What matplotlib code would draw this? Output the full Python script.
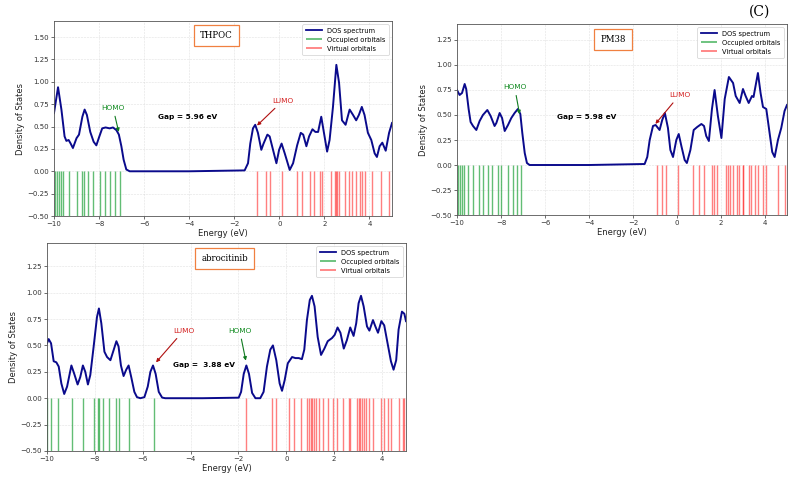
import matplotlib.pyplot as plt

# ---------------- THPOC ----------------
thpoc_e = [-10.0, -9.82, -9.67, -9.53, -9.45, -9.35, -9.26, -9.16, -9.0, -8.89, -8.74, -8.64,
           -8.54, -8.39, -8.24, -8.12, -8.0, -7.86, -7.71, -7.53, -7.38, -7.23, -7.12, -7.01,
           -6.91, -6.79, -6.64, -4.0, -1.54, -1.39, -1.29, -1.17, -1.07, -0.95, -0.80, -0.70,
           -0.53, -0.43, -0.28, -0.13, -0.01, 0.10, 0.24, 0.46, 0.61, 0.79, 0.95, 1.06, 1.20,
           1.32, 1.47, 1.60, 1.72, 1.86, 1.98, 2.12, 2.23, 2.38, 2.53, 2.65, 2.78, 2.94, 3.12,
           3.27, 3.41, 3.53, 3.66, 3.78, 3.93, 4.08, 4.23, 4.33, 4.45, 4.57, 4.72, 4.87, 5.0]
thpoc_dos = [0.65, 0.94, 0.69, 0.39, 0.34, 0.35, 0.31, 0.26, 0.37, 0.41, 0.61, 0.69,
             0.63, 0.44, 0.33, 0.29, 0.38, 0.48, 0.49, 0.48, 0.49, 0.46, 0.41, 0.28,
             0.13, 0.02, 0.0, 0.0, 0.01, 0.09, 0.31, 0.48, 0.52, 0.43, 0.24, 0.31,
             0.41, 0.39, 0.24, 0.09, 0.24, 0.31, 0.20, 0.015, 0.09, 0.29, 0.43, 0.41, 0.28,
             0.39, 0.47, 0.44, 0.44, 0.61, 0.43, 0.22, 0.35, 0.72, 1.19, 0.99, 0.57, 0.52, 0.69,
             0.63, 0.57, 0.63, 0.72, 0.63, 0.43, 0.35, 0.20, 0.16, 0.28, 0.32, 0.23, 0.43, 0.54]
thpoc_occ = [-9.96, -9.88, -9.79, -9.70, -9.61, -9.35, -9.0, -8.74, -8.65, -8.50, -8.25,
             -7.95, -7.73, -7.51, -7.30, -7.08]
thpoc_virt = [-0.98, -0.61, -0.43, 0.12, 0.80, 1.02, 1.34, 1.54, 1.82, 1.90, 2.30, 2.45,
              2.51, 2.56, 2.63, 2.93, 3.10, 3.22, 3.40, 3.57, 3.65, 3.82, 4.10, 4.50, 4.87]

# ---------------- PM38 ----------------
pm38_e = [-10.0, -9.88, -9.77, -9.65, -9.58, -9.47, -9.38, -9.27, -9.12, -8.97, -8.82, -8.62,
          -8.47, -8.29, -8.21, -8.06, -7.95, -7.83, -7.68, -7.53, -7.38, -7.23, -7.12, -7.03,
          -6.92, -6.82, -6.70, -4.0, -1.47, -1.35, -1.24, -1.09, -0.97, -0.79, -0.67, -0.55,
          -0.41, -0.30, -0.18, -0.03, 0.08, 0.20, 0.35, 0.45, 0.61, 0.76, 0.92, 1.11, 1.23,
          1.33, 1.45, 1.59, 1.71, 1.86, 2.02, 2.17, 2.36, 2.55, 2.67, 2.85, 3.0, 3.12, 3.26,
          3.41, 3.48, 3.68, 3.80, 3.91, 4.06, 4.21, 4.33, 4.44, 4.59, 4.74, 4.89, 5.0]
pm38_dos = [0.75, 0.70, 0.72, 0.81, 0.76, 0.56, 0.43, 0.39, 0.35, 0.44, 0.50, 0.55,
            0.49, 0.39, 0.42, 0.52, 0.47, 0.34, 0.40, 0.47, 0.52, 0.56, 0.51, 0.32,
            0.12, 0.02, 0.0, 0.0, 0.01, 0.08, 0.25, 0.39, 0.40, 0.35, 0.45, 0.52,
            0.37, 0.15, 0.08, 0.25, 0.31, 0.19, 0.05, 0.02, 0.15, 0.35, 0.38, 0.41, 0.39,
            0.29, 0.24, 0.56, 0.75, 0.49, 0.27, 0.66, 0.88, 0.82, 0.69, 0.62, 0.76, 0.69, 0.62,
            0.69, 0.68, 0.92, 0.72, 0.58, 0.56, 0.32, 0.13, 0.08, 0.25, 0.37, 0.54, 0.60]
pm38_occ = [-9.97, -9.86, -9.77, -9.67, -9.50, -9.25, -8.98, -8.80, -8.60, -8.41, -8.12,
            -8.02, -7.70, -7.44, -7.25, -7.10]
pm38_virt = [-0.93, -0.66, -0.50, 0.03, 0.72, 0.98, 1.22, 1.58, 1.68, 1.80, 2.23, 2.30,
             2.41, 2.56, 2.75, 2.83, 2.98, 3.01, 3.28, 3.35, 3.53, 3.67, 3.91, 4.06, 4.57, 4.89]

# ---------------- abrocitinib ----------------
abro_e = [-10.0, -9.93, -9.83, -9.72, -9.61, -9.51, -9.40, -9.28, -9.16, -8.98, -8.86, -8.72,
          -8.61, -8.50, -8.40, -8.29, -8.19, -8.05, -7.91, -7.83, -7.73, -7.60, -7.49, -7.35,
          -7.21, -7.10, -7.01, -6.91, -6.80, -6.69, -6.59, -6.48, -6.35, -6.24, -6.10, -5.93,
          -5.79, -5.68, -5.57, -5.46, -5.33, -5.19, -5.06, -3.5, -1.99, -1.89, -1.78, -1.67,
          -1.56, -1.43, -1.29, -1.09, -0.95, -0.81, -0.67, -0.56, -0.42, -0.28, -0.18, -0.07,
          0.06, 0.24, 0.38, 0.52, 0.65, 0.75, 0.86, 0.98, 1.07, 1.18, 1.31, 1.45, 1.59, 1.73,
          1.91, 2.02, 2.14, 2.26, 2.40, 2.53, 2.67, 2.81, 2.92, 3.02, 3.12, 3.23, 3.37, 3.47,
          3.62, 3.72, 3.83, 3.97, 4.09, 4.23, 4.37, 4.48, 4.59, 4.69, 4.83, 4.93, 5.0]
abro_dos = [0.52, 0.56, 0.52, 0.35, 0.34, 0.30, 0.14, 0.04, 0.11, 0.31, 0.23, 0.13,
            0.20, 0.31, 0.25, 0.13, 0.22, 0.49, 0.77, 0.85, 0.71, 0.44, 0.39, 0.36,
            0.46, 0.54, 0.49, 0.31, 0.21, 0.27, 0.31, 0.20, 0.06, 0.01, 0.0, 0.01,
            0.11, 0.25, 0.31, 0.23, 0.06, 0.006, 0.0, 0.0, 0.005, 0.06, 0.23, 0.31,
            0.23, 0.05, 0.0, 0.0, 0.06, 0.30, 0.46, 0.50, 0.36, 0.14, 0.07, 0.17,
            0.33, 0.39, 0.38, 0.38, 0.37, 0.46, 0.74, 0.93, 0.97, 0.87, 0.58, 0.41, 0.47, 0.54,
            0.57, 0.60, 0.67, 0.62, 0.47, 0.55, 0.67, 0.59, 0.71, 0.90, 0.97, 0.87, 0.68, 0.64,
            0.74, 0.68, 0.62, 0.73, 0.69, 0.52, 0.35, 0.27, 0.36, 0.65, 0.82, 0.80, 0.73]
abro_occ = [-10.0, -9.85, -9.56, -8.94, -8.48, -8.04, -7.85, -7.81, -7.66, -7.41, -7.13,
            -7.01, -6.58, -5.54]
abro_virt = [-1.67, -0.61, -0.45, 0.10, 0.34, 0.62, 0.86, 0.93, 1.01, 1.09, 1.16, 1.26,
             1.35, 1.54, 1.75, 1.93, 2.12, 2.38, 2.60, 2.67, 2.96, 3.02, 3.08, 3.16, 3.23,
             3.34, 3.47, 3.61, 3.94, 4.08, 4.25, 4.36, 4.70, 4.86, 4.91]

panels = [
    dict(name="THPOC", e=thpoc_e, dos=thpoc_dos, occ=thpoc_occ, virt=thpoc_virt,
         rect=[0.0679, 0.5481, 0.4252, 0.4079], ytop=1.68,
         yticks=[-0.5, -0.25, 0, 0.25, 0.5, 0.75, 1.0, 1.25, 1.5],
         gap="Gap = 5.96 eV", gap_xy=(-4.05, 0.61),
         homo=((-7.1, 0.41), (-7.38, 0.71)), lumo=((-1.08, 0.49), (0.16, 0.79)),
         title_xy=(0.48, 0.925)),
    dict(name="PM38", e=pm38_e, dos=pm38_dos, occ=pm38_occ, virt=pm38_virt,
         rect=[0.5748, 0.5502, 0.4151, 0.3996], ytop=1.41,
         yticks=[-0.5, -0.25, 0, 0.25, 0.5, 0.75, 1.0, 1.25],
         gap="Gap = 5.98 eV", gap_xy=(-4.09, 0.48),
         homo=((-7.13, 0.48), (-7.38, 0.78)), lumo=((-1.06, 0.39), (0.12, 0.70)),
         title_xy=(0.473, 0.92)),
    dict(name="abrocitinib", e=abro_e, dos=abro_dos, occ=abro_occ, virt=abro_virt,
         rect=[0.0591, 0.0565, 0.4516, 0.4351], ytop=1.47,
         yticks=[-0.5, -0.25, 0, 0.25, 0.5, 0.75, 1.0, 1.25],
         gap="Gap =  3.88 eV", gap_xy=(-3.43, 0.31),
         homo=((-1.67, 0.33), (-1.95, 0.64)), lumo=((-5.52, 0.32), (-4.29, 0.64)),
         title_xy=(0.495, 0.924)),
]

fig = plt.figure(figsize=(7.95, 4.78), dpi=100)

for p in panels:
    ax = fig.add_axes(p["rect"])
    ax.plot(p["e"], p["dos"], color="#0a0a8c", lw=1.4, label="DOS spectrum")
    ax.vlines(p["occ"], -0.5, 0, color="#1fa23a", alpha=0.7, lw=1.0, label="Occupied orbitals")
    ax.vlines(p["virt"], -0.5, 0, color="#ff2a2a", alpha=0.6, lw=1.0, label="Virtual orbitals")
    ax.set_xlim(-10, 5)
    ax.set_ylim(-0.5, p["ytop"])
    ax.set_yticks(p["yticks"])
    ax.set_xticks([-10, -8, -6, -4, -2, 0, 2, 4])
    ax.tick_params(labelsize=5, length=2, width=0.5, pad=1.5, colors="#333333")
    ax.grid(color="#cccccc", lw=0.4, alpha=0.6, linestyle="--")
    for s in ax.spines.values():
        s.set_color("#555555")
        s.set_linewidth(0.6)
    ax.set_xlabel("Energy (eV)", fontsize=6, labelpad=1.5, color="#222222")
    ax.set_ylabel("Density of States", fontsize=6, labelpad=2, color="#222222")

    ax.text(p["gap_xy"][0], p["gap_xy"][1], p["gap"], fontsize=5.3, fontweight="bold",
            ha="center", va="center")
    ax.annotate("HOMO", xy=p["homo"][0], xytext=p["homo"][1], color="#0f8a1f", fontsize=5.3,
                ha="center", va="center",
                arrowprops=dict(arrowstyle="-|>", color="#0f7a1f", lw=0.8, mutation_scale=5))
    ax.annotate("LUMO", xy=p["lumo"][0], xytext=p["lumo"][1], color="#d42020", fontsize=5.3,
                ha="center", va="center",
                arrowprops=dict(arrowstyle="-|>", color="#b01010", lw=0.8, mutation_scale=5))
    ax.text(p["title_xy"][0], p["title_xy"][1], p["name"], transform=ax.transAxes,
            family="serif", fontsize=6.2, ha="center", va="center",
            bbox=dict(boxstyle="square,pad=0.7", facecolor="white", edgecolor="#f08040", lw=0.9))
    leg = ax.legend(loc="upper right", fontsize=4.8, handlelength=2.4, borderpad=0.5,
                    labelspacing=0.45, framealpha=0.9)
    leg.get_frame().set_linewidth(0.5)
    for h in leg.get_lines():
        h.set_linewidth(1.3)

fig.text(0.955, 0.975, "(C)", family="serif", fontsize=10, ha="center", va="center")

fig.savefig("out.png", dpi=100)
